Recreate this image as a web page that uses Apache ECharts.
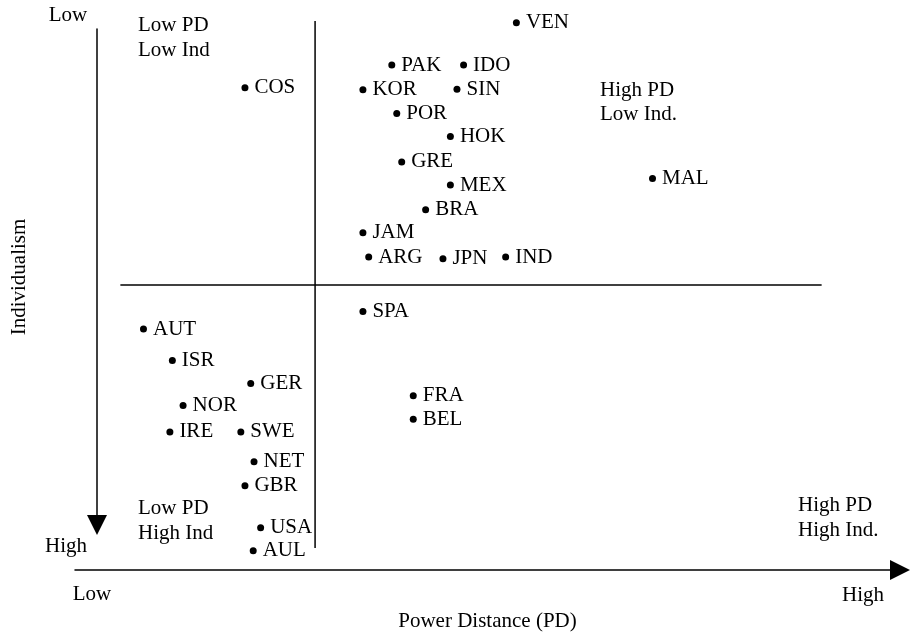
<!DOCTYPE html>
<html>
<head>
<meta charset="utf-8">
<script src="https://cdn.jsdelivr.net/npm/echarts@6/dist/echarts.min.js"></script>
<style>
html,body{margin:0;padding:0;background:#fff;overflow:hidden;}
#chart{width:910px;height:634px;}
</style>
</head>
<body>
<div id="chart"></div>
<script>
// Countries with Power Distance (x, 0 = low, 100 = high) and Individualism (y, 0 = low at top, 100 = high at bottom)
const countries = ['VEN','PAK','IDO','COS','KOR','SIN','POR','HOK','GRE','MEX','MAL','BRA','JAM','ARG','JPN','IND','SPA','AUT','ISR','GER','NOR','IRE','SWE','NET','GBR','USA','AUL','FRA','BEL'];
const powerDistance = [53.5,38.4,47.1,20.6,34.9,46.3,39.0,45.5,39.6,45.5,70.0,42.5,34.9,35.6,44.6,52.2,34.9,8.3,11.8,21.3,13.1,11.5,20.1,21.7,20.6,22.5,21.6,41.0,41.0];
const individualism = [0.5,8.2,8.2,12.3,12.7,12.6,17.0,21.2,25.8,30.0,28.8,34.5,38.7,43.1,43.4,43.1,53.0,56.2,61.9,66.1,70.1,74.9,74.9,80.3,84.7,92.3,96.5,68.3,72.6];

// Quadrant divider lines (data units)
const vDividerPD = [29.1, 29.1];
const vDividerInd = [0.2, 96.0];
const hDividerPD = [5.5, 90.5];
const hDividerInd = [48.2, 48.2];

// Text
const xAxisTitle = 'Power Distance (PD)';
const yAxisTitle = 'Individualism';
const xEndLabels = ['Low', 'High'];
const yEndLabels = ['Low', 'High'];
const quadrantLabels = ['Low PD\nLow Ind', 'High PD\nLow Ind.', 'Low PD\nHigh Ind', 'High PD\nHigh Ind.'];

const FONT = '"Liberation Serif", "Times New Roman", serif';
const FS = 21;

const chart = echarts.init(document.getElementById('chart'), null, {renderer: 'canvas', width: 910, height: 634});

const pts = countries.map((c, i) => ({name: c, value: [powerDistance[i], individualism[i]]}));

function gtext(str, x, y, align, valign, lh) {
  return {
    type: 'text', x: x, y: y, silent: true,
    style: {text: str, fill: '#000', fontFamily: FONT, fontSize: FS, align: align, verticalAlign: valign, lineHeight: lh || FS}
  };
}

const option = {
  backgroundColor: '#fff',
  animation: false,
  grid: [
    {left: 75, width: 825, top: 20, height: 550, containLabel: false, outerBoundsMode: 'none'},
    {left: 97, width: 10, top: 29, height: 496, containLabel: false, outerBoundsMode: 'none'}
  ],
  xAxis: [
    {
      gridIndex: 0, type: 'value', min: 0, max: 100, position: 'bottom',
      axisLine: {show: true, onZero: false, symbol: ['none', 'triangle'], symbolSize: [20, 20], lineStyle: {color: '#000', width: 1.5}},
      axisTick: {show: false}, axisLabel: {show: false}, splitLine: {show: false},
      name: xAxisTitle, nameLocation: 'middle', nameGap: 41,
      nameTextStyle: {color: '#000', fontFamily: FONT, fontSize: FS}
    },
    {
      gridIndex: 1, type: 'value', min: 0, max: 100, show: false
    }
  ],
  yAxis: [
    {
      gridIndex: 0, type: 'value', min: 0, max: 100, inverse: true, show: false
    },
    {
      gridIndex: 1, type: 'value', min: 0, max: 100, inverse: true, position: 'left',
      axisLine: {show: true, onZero: false, symbol: ['triangle', 'none'], symbolSize: [20, 20], lineStyle: {color: '#000', width: 1.5}},
      axisTick: {show: false}, axisLabel: {show: false}, splitLine: {show: false},
      name: yAxisTitle, nameLocation: 'middle', nameGap: 67, nameRotate: 90,
      nameTextStyle: {color: '#000', fontFamily: FONT, fontSize: FS}
    }
  ],
  series: [
    {
      type: 'line', xAxisIndex: 0, yAxisIndex: 0, symbol: 'none', silent: true,
      lineStyle: {color: '#000', width: 1.5},
      data: vDividerPD.map((v, i) => [v, vDividerInd[i]])
    },
    {
      type: 'line', xAxisIndex: 0, yAxisIndex: 0, symbol: 'none', silent: true,
      lineStyle: {color: '#000', width: 1.5},
      data: hDividerPD.map((v, i) => [v, hDividerInd[i]])
    },
    {
      type: 'scatter', xAxisIndex: 0, yAxisIndex: 0,
      symbol: 'circle', symbolSize: 7,
      itemStyle: {color: '#000', opacity: 1},
      label: {
        show: true, position: 'right', distance: 6,
        formatter: p => p.name,
        color: '#000', opacity: 1, fontFamily: FONT, fontSize: FS
      },
      data: pts
    }
  ],
  graphic: [
    gtext(yEndLabels[0], 68, 15, 'center', 'middle'),
    gtext(yEndLabels[1], 66, 546, 'center', 'middle'),
    gtext(xEndLabels[0], 92, 594, 'center', 'middle'),
    gtext(xEndLabels[1], 863, 595, 'center', 'middle'),
    gtext(quadrantLabels[0], 138, 12.5, 'left', 'top', 25),
    gtext(quadrantLabels[1], 600, 78, 'left', 'top', 24),
    gtext(quadrantLabels[2], 138, 495.5, 'left', 'top', 25),
    gtext(quadrantLabels[3], 798, 492.5, 'left', 'top', 25)
  ]
};

chart.setOption(option);
</script>
</body>
</html>
